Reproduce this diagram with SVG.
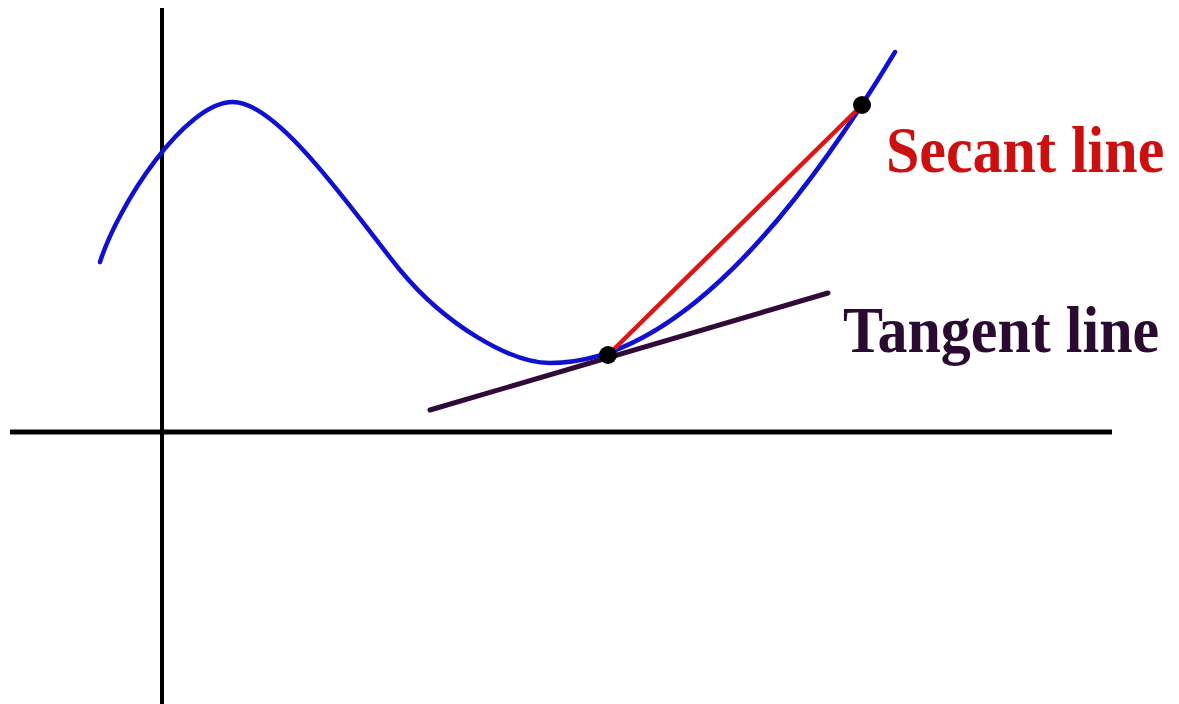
<svg xmlns="http://www.w3.org/2000/svg" width="1179" height="704" viewBox="0 0 1179 704">
<style>
.axis{stroke:#000;fill:none}
.lbl{font-family:"Liberation Serif","Times New Roman",serif;font-weight:bold}
.dot{fill:#000}
</style>
<rect width="1179" height="704" fill="#fff"/>
<g id="axes">
<line class="axis" x1="162" y1="8" x2="162" y2="704" stroke-width="4"/>
<line class="axis" x1="10" y1="432" x2="1112" y2="432" stroke-width="5"/>
</g>
<g id="curve">
<path d="M100,262 C118,205 185,102 233,102 C280,102 360,221.5 400,270 C445,324.5 510,363 550,363 C660,363 775,251 895,52" fill="none" stroke="#1010d0" stroke-width="4.5" stroke-linecap="round"/>
</g>
<g id="connectors">
<line id="tangent" x1="430" y1="410" x2="828" y2="293" stroke="#300a38" stroke-width="5" stroke-linecap="round"/>
<line id="secant" x1="608" y1="355" x2="862" y2="105" stroke="#dd1515" stroke-width="4.5"/>
</g>
<g id="p1"><circle class="dot" cx="608" cy="355" r="9"/></g>
<g id="p2"><circle class="dot" cx="862" cy="105" r="9"/></g>
<g id="secant-label" transform="translate(886,172) scale(1,1.08)"><text class="lbl" x="0" y="0" font-size="60" fill="#cc1010">Secant line</text></g>
<g id="tangent-label" transform="translate(843,352) scale(1,1.08)"><text class="lbl" x="0" y="0" font-size="60" fill="#2a0a30">Tangent line</text></g>
</svg>
